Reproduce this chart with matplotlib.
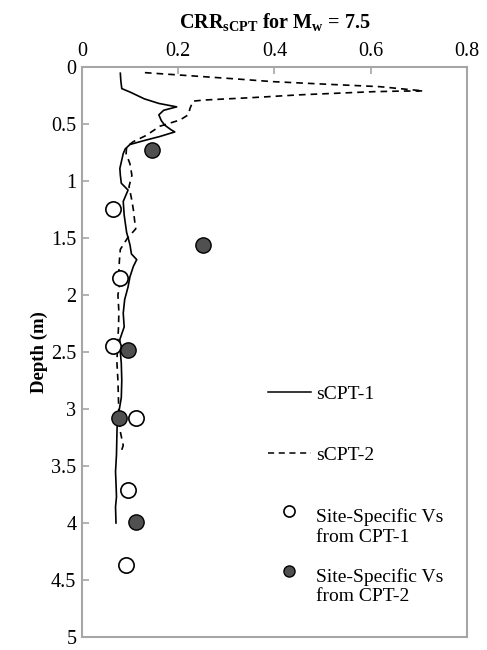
import numpy as np
import matplotlib
matplotlib.use('Agg')
import matplotlib.pyplot as plt
from matplotlib.lines import Line2D
from matplotlib.legend_handler import HandlerLine2D

plt.rcParams['font.family'] = ['Liberation Serif', 'DejaVu Serif']
plt.rcParams['mathtext.fontset'] = 'custom'
plt.rcParams['mathtext.rm'] = 'Liberation Serif:bold'
plt.rcParams['mathtext.bf'] = 'Liberation Serif:bold'

# sCPT-1 (linea continua): CRR, profundidad
crr_scpt1 = [0.080, 0.081, 0.083, 0.100, 0.130, 0.160, 0.197, 0.170, 0.160, 0.165,
             0.172, 0.185, 0.193, 0.162, 0.130, 0.100, 0.090, 0.086, 0.079, 0.080,
             0.082, 0.096, 0.086, 0.088, 0.093, 0.100, 0.103, 0.114, 0.107, 0.100,
             0.096, 0.089, 0.086, 0.088, 0.079, 0.080, 0.082, 0.083, 0.082, 0.078,
             0.074, 0.073, 0.072, 0.070, 0.071, 0.072, 0.070, 0.071]
depth_scpt1 = [0.055, 0.12, 0.19, 0.22, 0.28, 0.32, 0.35, 0.38, 0.42, 0.47,
               0.51, 0.55, 0.57, 0.61, 0.645, 0.68, 0.72, 0.76, 0.89, 0.95,
               1.02, 1.08, 1.18, 1.30, 1.45, 1.56, 1.64, 1.69, 1.75, 1.84,
               1.93, 2.04, 2.16, 2.28, 2.39, 2.50, 2.60, 2.75, 2.90, 3.00,
               3.08, 3.20, 3.40, 3.55, 3.65, 3.77, 3.86, 4.00]

# sCPT-2 (linea tracejada)
crr_scpt2 = [0.131, 0.200, 0.252, 0.320, 0.397, 0.500, 0.619, 0.660, 0.709, 0.660,
             0.605, 0.450, 0.350, 0.287, 0.255, 0.231, 0.225, 0.221, 0.204, 0.162,
             0.134, 0.107, 0.093, 0.092, 0.100, 0.104, 0.098, 0.103, 0.107, 0.110,
             0.112, 0.095, 0.080, 0.078, 0.077, 0.079, 0.075, 0.077, 0.076, 0.074,
             0.073, 0.075, 0.076, 0.077, 0.080, 0.086, 0.082]
depth_scpt2 = [0.05, 0.07, 0.085, 0.105, 0.129, 0.15, 0.173, 0.19, 0.21, 0.212,
               0.217, 0.245, 0.27, 0.283, 0.29, 0.30, 0.36, 0.42, 0.465, 0.52,
               0.60, 0.655, 0.70, 0.76, 0.85, 0.95, 1.05, 1.15, 1.25, 1.36,
               1.42, 1.50, 1.60, 1.70, 1.80, 1.90, 2.00, 2.15, 2.30, 2.45,
               2.60, 2.75, 2.90, 3.05, 3.20, 3.32, 3.37]

# Vs especifico do local
crr_vs_cpt1 = [0.065, 0.079, 0.065, 0.112, 0.096, 0.091]
depth_vs_cpt1 = [1.25, 1.85, 2.45, 3.08, 3.71, 4.37]
crr_vs_cpt2 = [0.145, 0.251, 0.095, 0.077, 0.112]
depth_vs_cpt2 = [0.73, 1.56, 2.48, 3.08, 3.99]

x_ticks = [0, 0.2, 0.4, 0.6, 0.8]
y_ticks = [0, 0.5, 1, 1.5, 2, 2.5, 3, 3.5, 4, 4.5, 5]

cinza = '#a6a6a6'
cor_cheia = '#505050'


class HandlerAcima(HandlerLine2D):
    # sobe o marcador para ficar na primeira linha do texto
    def create_artists(self, legend, orig_handle, xdescent, ydescent, width, height, fontsize, trans):
        arts = super().create_artists(legend, orig_handle, xdescent, ydescent, width, height, fontsize, trans)
        for a in arts:
            a.set_ydata(np.asarray(a.get_ydata()) + 0.8 * fontsize)
        return arts


fig = plt.figure(figsize=(4.87, 6.5), dpi=100)
ax = fig.add_axes([0.168, 0.02, 0.791, 0.877])

ax.plot(crr_scpt1, depth_scpt1, color='black', lw=1.2, label='sCPT-1')
ax.plot(crr_scpt2, depth_scpt2, color='black', lw=1.2, ls=(0, (4, 3)), label='sCPT-2')
ax.plot(crr_vs_cpt1, depth_vs_cpt1, ls='none', marker='o', ms=11, mfc='white',
        mec='black', mew=1.2, zorder=3)
ax.plot(crr_vs_cpt2, depth_vs_cpt2, ls='none', marker='o', ms=11, mfc=cor_cheia,
        mec='black', mew=1.0, zorder=3)

ax.set_xlim(0, 0.8)
ax.set_ylim(5, 0)
ax.set_xticks(x_ticks)
ax.set_yticks(y_ticks)
ax.set_xticklabels(['%g' % v for v in x_ticks])
ax.set_yticklabels(['%g' % v for v in y_ticks])
ax.xaxis.tick_top()
ax.xaxis.set_label_position('top')
ax.tick_params(axis='both', direction='in', length=5, width=1.2, color=cinza,
               labelsize=14.5, pad=4)
for s in ax.spines.values():
    s.set_color(cinza)
    s.set_linewidth(1.5)

ax.set_xlabel(r'CRR$_{\mathbf{sCPT}}$ for M$_{\mathbf{w}}$ = 7.5', fontsize=14.5,
              fontweight='bold', labelpad=10)
ax.set_ylabel('Depth (m)', fontsize=13.5, fontweight='bold', labelpad=2)

h_linhas = [Line2D([], [], color='black', lw=1.1),
            Line2D([], [], color='black', lw=1.1, ls=(0, (4, 3)))]
leg1 = ax.legend(h_linhas, ['sCPT-1', 'sCPT-2'], loc='upper left',
                 bbox_to_anchor=(0.483, 0.442), frameon=False, fontsize=14,
                 handlelength=2.2, handletextpad=0.3, labelspacing=2.25,
                 borderpad=0, borderaxespad=0)
ax.add_artist(leg1)

h_pts = [Line2D([], [], ls='none', marker='o', ms=8, mfc='white', mec='black', mew=1.2),
         Line2D([], [], ls='none', marker='o', ms=8, mfc=cor_cheia, mec='black', mew=1.0)]
ax.legend(h_pts, ['Site-Specific Vs\nfrom CPT-1', 'Site-Specific Vs\nfrom CPT-2'],
          loc='upper left', bbox_to_anchor=(0.483, 0.226), frameon=False, fontsize=14,
          handlelength=2.2, handletextpad=0.3, labelspacing=1.15,
          borderpad=0, borderaxespad=0,
          handler_map={h_pts[0]: HandlerAcima(), h_pts[1]: HandlerAcima()})

fig.savefig('out.png', dpi=100)
